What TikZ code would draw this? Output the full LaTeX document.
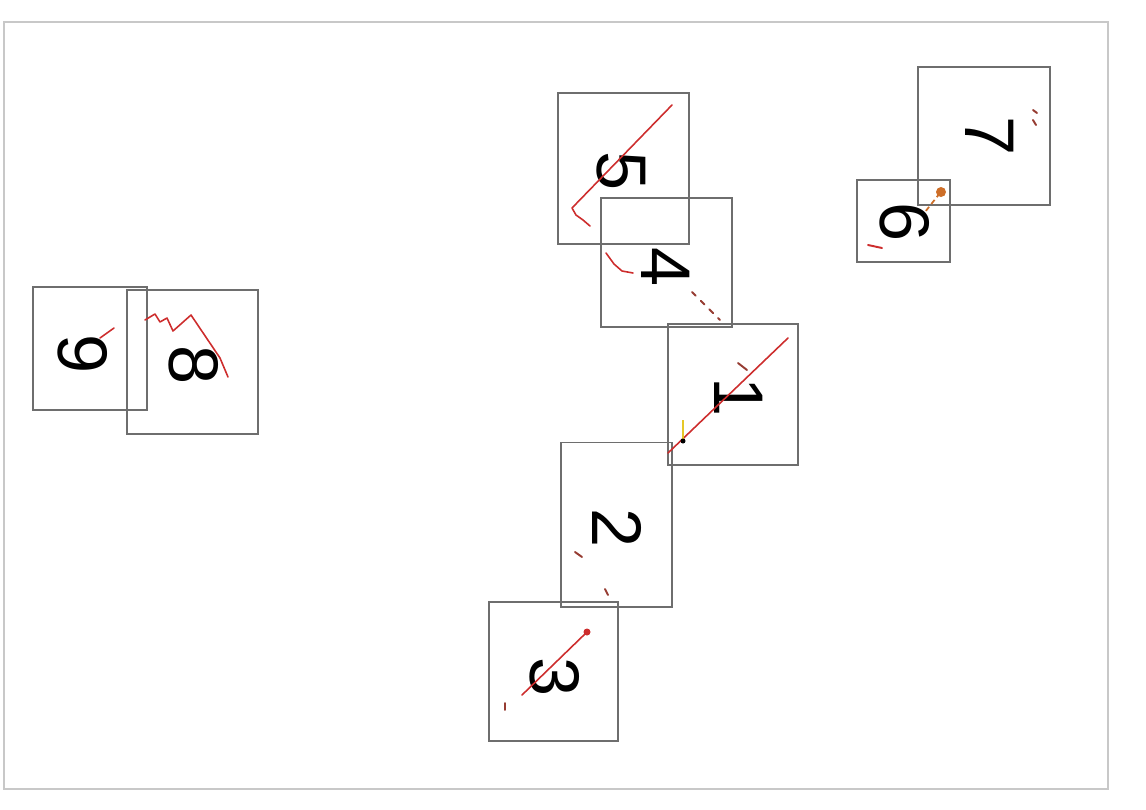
\documentclass[tikz,border=0pt]{standalone}
\usepackage{fontspec}
\setmainfont{Liberation Sans}
\usepackage{xcolor}
\usepackage{tikz}
\usetikzlibrary{positioning,calc}
\definecolor{FrameGray}{RGB}{200,200,200}
\definecolor{BoxGray}{RGB}{110,110,110}
\definecolor{InkRed}{RGB}{205,45,45}
\definecolor{InkBrown}{RGB}{150,60,50}
\definecolor{InkOrange}{RGB}{205,110,40}
\definecolor{InkYellow}{RGB}{230,200,40}

\begin{document}
\begin{tikzpicture}[
  x=0.02cm, y=-0.02cm,
  frame/.style={draw=FrameGray, line width=1.2pt},
  cell/.style={rectangle, draw=BoxGray, line width=0.6pt, inner sep=0pt},
  digit/.style={rotate=-90, inner sep=0pt, font=\fontsize{40}{40}\selectfont},
  ink/.style={InkRed, line width=0.9pt, line cap=round, line join=round},
  speck/.style={InkBrown, line width=1.1pt, line cap=round}
]
\useasboundingbox (0,0) rectangle (1146,809);
\node[frame, rectangle, inner sep=0pt, minimum width=22.08cm, minimum height=15.34cm] (page) at (556,405.5) {};

% digit cells
\node[cell, minimum width=2.62cm, minimum height=3.02cm] (box5) at (623.5,168.5) {};
\node[cell, minimum width=2.62cm, minimum height=2.58cm] (box4) at (666.5,262.5) {};
\node[cell, minimum width=2.60cm, minimum height=2.82cm] (box1) at (733,394.5) {};
\node[cell, minimum width=2.22cm, minimum height=3.30cm] (box2) at (616.5,524.5) {};
\node[cell, minimum width=2.58cm, minimum height=2.78cm] (box3) at (553.5,671.5) {};
\node[cell, minimum width=2.64cm, minimum height=2.76cm] (box7) at (984,136) {};
\node[cell, minimum width=1.86cm, minimum height=1.64cm] (box6) at (903.5,221) {};
\node[cell, minimum width=2.28cm, minimum height=2.46cm] (box9) at (90,348.5) {};
\node[cell, minimum width=2.62cm, minimum height=2.88cm] (box8) at (192.5,362) {};

\node[digit] (d5) at (621,171) {5};
\node[digit] (d4) at (666,267) {4};
\node[digit] (d1) at (739,397) {1};
\node[digit] (d2) at (617,528) {2};
\node[digit] (d3) at (555,677) {3};
\node[digit] (d7) at (990,136) {7};
\node[digit] (d6) at (905,222) {6};
\node[digit] (d9) at (83,354) {9};
\node[digit] (d8) at (194,365) {8};

% strokes
\draw[ink] (672,105) -- (572,208) -- (576,215) -- (583,220) -- (590,226);
\draw[ink] (606,253) -- (614,264) -- (622,271) -- (633,273);
\draw[speck, dash pattern=on 3pt off 4pt] (692,292) -- (720,320);
\draw[ink] (788,338) -- (668,453);
\draw[speck] (738,363) -- (747,370);
\draw[InkYellow, line width=1pt] (683,420) -- (683,440);
\fill (683,441) circle (2.5);
\draw[speck] (575,552) -- (582,557);
\draw[speck] (605,589) -- (608,595);
\draw[ink] (587,632) -- (522,695);
\fill[InkRed] (587,632) circle (3.5);
\draw[speck] (505,703) -- (505,710);
\draw[speck] (1033,110) -- (1037,113);
\draw[speck] (1033,120) -- (1036,125);
\fill[InkOrange] (941,192) circle (5);
\draw[InkOrange, line width=1pt, dash pattern=on 3pt off 2pt] (940,193) -- (925,212);
\draw[speck, InkRed] (868,245) -- (882,248);
\draw[ink] (100,338) -- (114,328);
\draw[ink] (145,320) -- (155,314) -- (160,322) -- (167,318) -- (173,331) -- (191,315) -- (220,358) -- (228,377);
\end{tikzpicture}
\end{document}
